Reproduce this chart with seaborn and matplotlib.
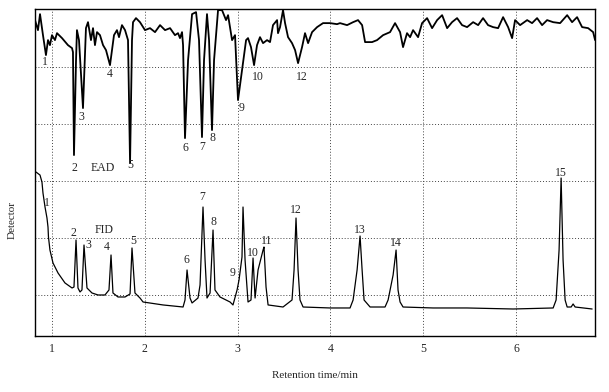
import seaborn as sns
import matplotlib
matplotlib.use("Agg")
import matplotlib.pyplot as plt
import pandas as pd

# EAD trace (upper): retention time / signal
ead_time = [0.817, 0.849, 0.871, 0.903, 0.935, 0.957, 0.978, 1.000, 1.032, 1.054,
            1.108, 1.172, 1.216, 1.226, 1.237, 1.259, 1.269, 1.291, 1.334, 1.366,
            1.388, 1.420, 1.442, 1.463, 1.485, 1.517, 1.550, 1.582, 1.625, 1.668,
            1.700, 1.722, 1.754, 1.787, 1.819, 1.841, 1.862, 1.873, 1.905, 1.948,
            2.002, 2.056, 2.110, 2.164, 2.218, 2.272, 2.325, 2.358, 2.379, 2.401,
            2.412, 2.433, 2.466, 2.509, 2.552, 2.584, 2.616, 2.638, 2.670, 2.692,
            2.724, 2.746, 2.789, 2.832, 2.875, 2.897, 2.940, 2.972, 3.004, 3.047,
            3.091, 3.112, 3.144, 3.177, 3.209, 3.241, 3.274, 3.317, 3.349, 3.381,
            3.425, 3.435, 3.457, 3.489, 3.511, 3.543, 3.586, 3.619, 3.651, 3.694,
            3.726, 3.759, 3.802, 3.856, 3.920, 3.996, 4.071, 4.103, 4.179, 4.244,
            4.297, 4.341, 4.373, 4.448, 4.502, 4.567, 4.642, 4.696, 4.750, 4.782,
            4.825, 4.858, 4.890, 4.944, 4.987, 5.041, 5.095, 5.149, 5.203, 5.257,
            5.310, 5.364, 5.418, 5.472, 5.537, 5.591, 5.644, 5.698, 5.752, 5.806,
            5.860, 5.914, 5.957, 5.989, 6.043, 6.119, 6.172, 6.226, 6.280, 6.334,
            6.399, 6.474, 6.550, 6.603, 6.657, 6.711, 6.776, 6.830, 6.851]
ead_signal = [4.825, 4.649, 4.930, 4.561, 4.211, 4.474, 4.386, 4.561, 4.474, 4.596,
              4.509, 4.386, 4.333, 4.263, 2.456, 4.123, 4.649, 4.474, 3.281, 4.684,
              4.789, 4.474, 4.684, 4.386, 4.614, 4.561, 4.386, 4.298, 4.035, 4.561,
              4.649, 4.526, 4.737, 4.649, 4.474, 2.316, 4.474, 4.789, 4.860, 4.789,
              4.649, 4.684, 4.614, 4.737, 4.649, 4.684, 4.561, 4.596, 4.509, 4.614,
              4.386, 2.754, 4.123, 4.930, 4.965, 4.474, 2.772, 4.123, 4.930, 4.474,
              2.895, 4.123, 5.000, 5.000, 4.825, 4.912, 4.474, 4.561, 3.421, 3.947,
              4.474, 4.509, 4.351, 4.035, 4.386, 4.526, 4.421, 4.474, 4.439, 4.737,
              4.825, 4.596, 4.702, 5.000, 4.772, 4.526, 4.421, 4.298, 4.070, 4.351,
              4.596, 4.421, 4.614, 4.702, 4.772, 4.772, 4.754, 4.772, 4.737, 4.789,
              4.825, 4.737, 4.439, 4.439, 4.474, 4.561, 4.614, 4.772, 4.614, 4.351,
              4.596, 4.526, 4.649, 4.526, 4.772, 4.860, 4.684, 4.825, 4.912, 4.684,
              4.789, 4.860, 4.737, 4.702, 4.789, 4.737, 4.860, 4.737, 4.702, 4.684,
              4.877, 4.702, 4.509, 4.825, 4.737, 4.825, 4.772, 4.860, 4.737, 4.825,
              4.789, 4.772, 4.912, 4.789, 4.877, 4.702, 4.684, 4.614, 4.474]

# FID trace (lower)
fid_time = [0.828, 0.871, 0.892, 0.903, 0.925, 0.946, 0.957, 0.962, 0.978, 1.011,
            1.065, 1.140, 1.216, 1.237, 1.259, 1.280, 1.302, 1.323, 1.345, 1.377,
            1.431, 1.496, 1.571, 1.614, 1.636, 1.657, 1.711, 1.787, 1.841, 1.862,
            1.894, 1.948, 1.981, 2.196, 2.412, 2.433, 2.455, 2.487, 2.509, 2.573,
            2.595, 2.627, 2.649, 2.670, 2.703, 2.735, 2.756, 2.810, 2.918, 2.950,
            2.994, 3.015, 3.047, 3.058, 3.080, 3.112, 3.144, 3.166, 3.188, 3.220,
            3.274, 3.284, 3.306, 3.328, 3.489, 3.586, 3.608, 3.629, 3.651, 3.672,
            3.705, 3.996, 4.211, 4.244, 4.287, 4.319, 4.341, 4.362, 4.427, 4.588,
            4.621, 4.675, 4.707, 4.728, 4.750, 4.782, 5.106, 5.472, 5.968, 6.399,
            6.431, 6.463, 6.485, 6.506, 6.528, 6.550, 6.593, 6.614, 6.636, 6.819]
fid_signal = [2.158, 2.105, 1.982, 1.789, 1.544, 1.351, 1.193, 1.018, 0.789, 0.561,
              0.386, 0.211, 0.123, 0.140, 0.965, 0.123, 0.053, 0.088, 0.877, 0.123,
              0.035, 0.000, 0.000, 0.088, 0.702, 0.035, -0.035, -0.035, 0.018, 0.825,
              0.035, -0.053, -0.123, -0.175, -0.211, -0.088, 0.439, -0.053, -0.140, -0.053,
              0.175, 1.544, 0.614, -0.053, 0.035, 1.140, 0.088, -0.035, -0.123, -0.175,
              0.088, 0.263, 0.667, 1.544, 0.614, -0.123, -0.088, 0.649, -0.053, 0.439,
              0.789, 0.842, 0.140, -0.175, -0.211, -0.088, 0.439, 1.351, 0.439, -0.088,
              -0.211, -0.228, -0.228, -0.088, 0.439, 1.035, 0.439, -0.088, -0.211, -0.211,
              -0.088, 0.351, 0.789, 0.088, -0.123, -0.211, -0.228, -0.228, -0.246, -0.228,
              -0.088, 0.789, 2.053, 0.614, -0.088, -0.211, -0.211, -0.158, -0.211, -0.246]

# peak numbers
ead_ids = ["1", "2", "3", "4", "5", "6", "7", "8", "9", "10", "12"]
fid_ids = ["1", "2", "3", "4", "5", "6", "7", "8", "9", "10", "11", "12", "13", "14", "15"]
xtick_values = [1, 2, 3, 4, 5, 6]

# label anchors (annotation layout)
ead_lab_t = [0.925, 1.237, 1.312, 1.625, 1.841, 2.433, 2.616, 2.724, 3.037, 3.220, 3.694]
ead_lab_v = [4.088, 2.228, 3.123, 3.877, 2.281, 2.579, 2.596, 2.754, 3.281, 3.825, 3.825]
fid_lab_t = [0.946, 1.226, 1.388, 1.593, 1.873, 2.444, 2.616, 2.735, 2.940, 3.166, 3.317,
             3.629, 4.319, 4.707, 6.485]
fid_lab_v = [1.614, 1.088, 0.877, 0.842, 0.947, 0.614, 1.719, 1.281, 0.386, 0.737, 0.947,
             1.491, 1.140, 0.912, 2.140]

sns.set_theme(style="white")
plt.rcParams['font.family'] = ['Liberation Serif', 'DejaVu Serif']

fig = plt.figure(figsize=(6.09, 3.92), dpi=100)
ax = fig.add_axes([35 / 609, 1 - 336 / 392, 560 / 609, 327 / 392])

df_ead = pd.DataFrame({"t": ead_time, "v": ead_signal})
df_fid = pd.DataFrame({"t": fid_time, "v": fid_signal})
sns.lineplot(data=df_ead, x="t", y="v", ax=ax, color="black", lw=1.3,
             sort=False, estimator=None)
sns.lineplot(data=df_fid, x="t", y="v", ax=ax, color="black", lw=0.9,
             sort=False, estimator=None)

for lab, t, v in zip(ead_ids, ead_lab_t, ead_lab_v):
    ax.text(t, v, lab, ha="center", va="center", fontsize=8.5)
for lab, t, v in zip(fid_ids, fid_lab_t, fid_lab_v):
    ax.text(t, v, lab, ha="center", va="center", fontsize=8.5)
ax.text(1.55, 2.228, "EAD", ha="center", va="center", fontsize=8.5)
ax.text(1.56, 1.14, "FID", ha="center", va="center", fontsize=8.5)

ax.set_xlim(0.817, 6.85)
ax.set_ylim(-0.72, 5.02)
ax.set_xticks(xtick_values)
ax.set_xticklabels([str(x) for x in xtick_values], fontsize=8.5)
ax.set_yticks([0, 1, 2, 3, 4])
ax.set_yticklabels([])
ax.tick_params(axis="both", length=0, pad=5)
ax.grid(True, color="#444444", lw=0.7, ls=(0, (1, 2)))
for s in ax.spines.values():
    s.set_color("black")
    s.set_linewidth(1.0)

ax.set_xlabel("")
ax.set_ylabel("")
fig.text(315 / 609, 1 - 375 / 392, "Retention time/min", ha="center", va="center", fontsize=8)
fig.text(12 / 609, 1 - 220 / 392, "Detector", ha="center", va="center", rotation=90, fontsize=8)

fig.savefig("out.png", dpi=100)
